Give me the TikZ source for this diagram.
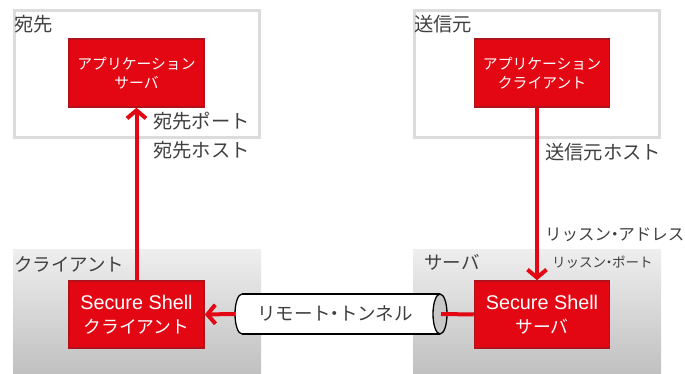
\documentclass[tikz,border=0pt]{standalone}
\usepackage{fontspec}
\setmainfont{Noto Sans CJK JP}
\newfontfamily\lat{Liberation Sans}
\usetikzlibrary{arrows.meta}
\newcommand{\nkg}{\kern-.28em・\kern-.28em}
\definecolor{sred}{RGB}{227,6,19}
\definecolor{sredline}{RGB}{175,18,26}
\definecolor{txtgray}{RGB}{64,64,64}
\definecolor{boxgray}{RGB}{220,220,220}
\definecolor{gtop}{RGB}{238,238,238}
\definecolor{gbot}{RGB}{192,192,192}
\definecolor{endgray}{RGB}{200,200,200}
\tikzset{
  redbox/.style={draw=sredline, line width=1.5pt, fill=sred, text=white, align=center,
     minimum width=135pt, inner sep=0pt},
  appbox/.style={redbox, minimum height=68pt, font=\fontsize{14.8}{19.5}\selectfont},
  sshbox/.style={redbox, minimum height=67pt, font=\fontsize{17.8}{24}\selectfont},
  lbl/.style={anchor=west, inner sep=0pt, text=txtgray},
  biglbl/.style={lbl, font=\fontsize{19.3}{22}\selectfont},
  redarrow/.style={draw=sred, line width=4pt, -{Straight Barb[length=8pt,width=19pt]}},
  redline/.style={draw=sred, line width=4pt},
  areabox/.style={draw=boxgray, line width=2.5pt, fill=white},
}
\begin{document}
\begin{tikzpicture}[x=1pt,y=1pt]
\useasboundingbox (0,0) rectangle (685,374);
% areas
\draw[areabox] (14.5,236.5) rectangle (259.5,363.5);
\draw[areabox] (414.5,236.5) rectangle (659.5,363.5);
\shade[top color=gtop, bottom color=gbot] (13,0) rectangle (261,124);
\shade[top color=gtop, bottom color=gbot] (413,0) rectangle (661,124);
% area labels
\node[biglbl] (lDest) at (14,350) {宛先};
\node[biglbl] (lSrc) at (414,350) {送信元};
\node[biglbl, font=\fontsize{18.5}{22}\selectfont] (lCli) at (14,110) {クライアント};
\node[biglbl, font=\fontsize{18.5}{22}\selectfont] (lSrv) at (424,112) {サーバ};
% boxes
\node[appbox] (as) at (136.5,301) {アプリケーション\\サーバ};
\node[appbox] (ac) at (542,301) {アプリケーション\\クライアント};
\node[sshbox] (cl) at (136.5,59.5) {{\lat\fontsize{19.8}{24}\selectfont Secure Shell}\\クライアント};
\node[sshbox] (sv) at (542,59.5) {{\lat\fontsize{19.8}{24}\selectfont Secure Shell}\\サーバ};
% tunnel
\fill[white] (242,80) -- (440,80) -- (440,40) -- (242,40) arc[start angle=270, end angle=90, x radius=7, y radius=20] -- cycle;
\draw[line width=1.3pt] (242,80) -- (440,80);
\draw[line width=1.3pt] (242,40) -- (440,40);
\draw[line width=1.3pt] (242,40) arc[start angle=270, end angle=90, x radius=7, y radius=20];
\draw[line width=1.3pt, fill=endgray] (440,60) ellipse [x radius=7, y radius=20];
\node[inner sep=0pt, text=txtgray, font=\fontsize{18.5}{20}\selectfont] (tun) at (335,61) {リモート\nkg トンネル};
\coordinate (tunL) at (235,60);
\coordinate (tunR) at (441,60);
% connectors
\draw[redarrow] (cl.north) -- (as.south);
\draw[redarrow] ([xshift=-5pt]ac.south) -- ([xshift=-5pt]sv.north);
\draw[redline] (sv.west) -- (tunR);
\draw[redarrow] (tunL) -- (cl.east);
% labels
\node[biglbl] (lDp) at (153,253) {宛先ポート};
\node[biglbl] (lDh) at (153,224) {宛先ホスト};
\node[biglbl] (lSh) at (545,222) {送信元ホスト};
\node[lbl, font=\fontsize{16.5}{18}\selectfont] (lLa) at (545,139) {リッスン\nkg アドレス};
\node[lbl, font=\fontsize{13.5}{15}\selectfont] (lLp) at (552,112) {リッスン\nkg ポート};
\end{tikzpicture}
\end{document}
